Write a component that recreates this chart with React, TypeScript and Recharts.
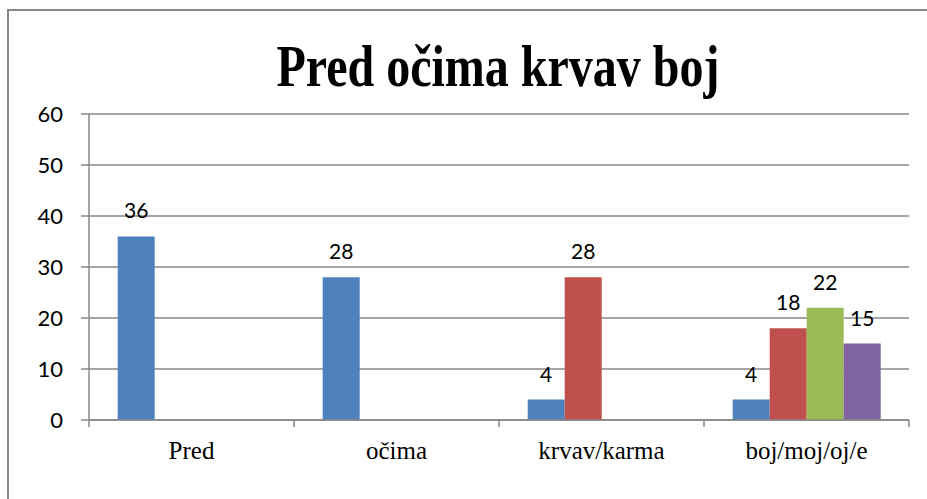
import { BarChart, Bar, XAxis, YAxis, CartesianGrid, LabelList } from "recharts";

const categories = ["Pred", "očima", "krvav/karma", "boj/moj/oj/e"];
const series1 = [36, 28, 4, 4];
const series2 = [null, null, 28, 18];
const series3 = [null, null, null, 22];
const series4 = [null, null, null, 15];
const yTicks = [0, 10, 20, 30, 40, 50, 60];

const data = categories.map((name, i) => ({
  name,
  s1: series1[i],
  s2: series2[i],
  s3: series3[i],
  s4: series4[i],
}));

const W = 927;
const H = 499;
const LEFT = 89;
const RIGHT = 18;
const BAND = (W - LEFT - RIGHT) / categories.length;
const GRAY = "#878787";

function XTick(props: any) {
  const { x, y, payload, index } = props;
  const half = BAND / 2;
  return (
    <g>
      <line x1={x - half} y1={y} x2={x - half} y2={y + 7} stroke={GRAY} strokeWidth={1.5} />
      {index === categories.length - 1 && (
        <line x1={x + half} y1={y} x2={x + half} y2={y + 7} stroke={GRAY} strokeWidth={1.5} />
      )}
      <text
        x={x}
        y={y + 39}
        textAnchor="middle"
        fontFamily="'Liberation Serif', 'Times New Roman', serif"
        fontSize={25}
        fill="#000"
      >
        {payload.value}
      </text>
    </g>
  );
}

const labelFmt = (v: any) => (v == null ? "" : v);
const labelStyle = { fontFamily: "Lato, sans-serif", fontSize: 21, fill: "#000" };

export default function App() {
  return (
    <div style={{ position: "absolute", left: 0, top: 0, width: W, height: H, background: "#fff" }}>
      <div
        style={{
          position: "absolute",
          left: 7,
          top: 9,
          width: W - 9,
          height: H - 11,
          borderLeft: `2px solid ${GRAY}`,
          borderTop: `2px solid ${GRAY}`,
        }}
      />
      <svg width={W} height={H} style={{ position: "absolute", left: 0, top: 0 }}>
        <text
          x={498}
          y={86}
          textAnchor="middle"
          fontFamily="'Liberation Serif', 'Times New Roman', serif"
          fontWeight="bold"
          fontSize={60}
          textLength={443}
          lengthAdjust="spacingAndGlyphs"
          fill="#000"
        >
          Pred očima krvav boj
        </text>
      </svg>
      <div style={{ position: "absolute", left: 0, top: 0 }}>
        <BarChart
          width={W}
          height={H}
          data={data}
          margin={{ top: 114, right: RIGHT, left: 0, bottom: 19 }}
          barCategoryGap="14%"
          barGap={0}
        >
          <CartesianGrid vertical={false} stroke={GRAY} strokeWidth={1.5} />
          <XAxis
            dataKey="name"
            height={60}
            axisLine={{ stroke: GRAY, strokeWidth: 1.5 }}
            tickLine={false}
            tickSize={0}
            tickMargin={0}
            tick={<XTick />}
            interval={0}
          />
          <YAxis
            width={LEFT}
            domain={[0, 60]}
            ticks={yTicks}
            interval={0}
            axisLine={{ stroke: GRAY, strokeWidth: 1.5 }}
            tickLine={{ stroke: GRAY, strokeWidth: 1.5 }}
            tickSize={8}
            tickMargin={18}
            tick={{ fill: "#000", fontFamily: "Lato, sans-serif", fontSize: 22 }}
          />
          <Bar dataKey="s1" fill="#4F81BD" isAnimationActive={false}>
            <LabelList dataKey="s1" position="top" offset={18} formatter={labelFmt} style={labelStyle} />
          </Bar>
          <Bar dataKey="s2" fill="#C0504D" isAnimationActive={false}>
            <LabelList dataKey="s2" position="top" offset={18} formatter={labelFmt} style={labelStyle} />
          </Bar>
          <Bar dataKey="s3" fill="#9BBB59" isAnimationActive={false}>
            <LabelList dataKey="s3" position="top" offset={18} formatter={labelFmt} style={labelStyle} />
          </Bar>
          <Bar dataKey="s4" fill="#8064A2" isAnimationActive={false}>
            <LabelList dataKey="s4" position="top" offset={18} formatter={labelFmt} style={labelStyle} />
          </Bar>
        </BarChart>
      </div>
    </div>
  );
}
